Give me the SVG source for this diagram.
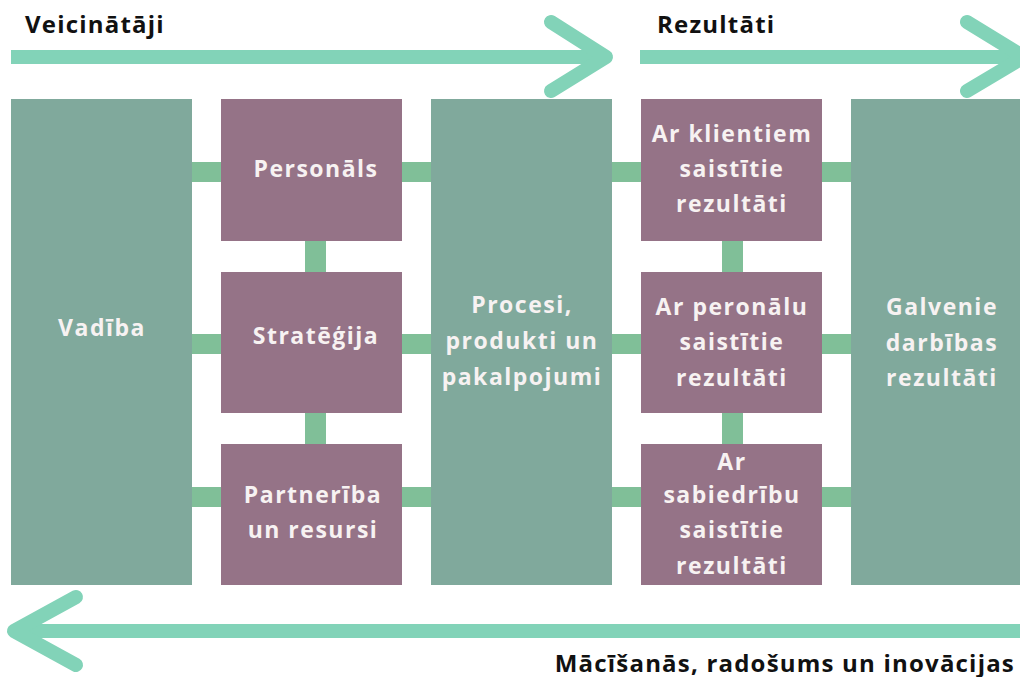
<svg xmlns="http://www.w3.org/2000/svg" width="1020" height="677" viewBox="0 0 1020 677">
<style>
.teal{fill:#80a99c}
.purple{fill:#957387}
.conn{fill:#80bf98}
.arrow{fill:none;stroke:#82d3b8;stroke-width:14;stroke-linecap:round;stroke-linejoin:round}
.shaft{fill:none;stroke:#82d3b8;stroke-width:14;stroke-linecap:butt}
.head{font-family:"Open Sans","Noto Sans","Liberation Sans",sans-serif;font-weight:bold;font-size:24px;fill:#111;letter-spacing:1.2px}
.lbl{font-family:"Open Sans","Noto Sans","Liberation Sans",sans-serif;font-weight:bold;font-size:23px;fill:#f7f2f2;text-anchor:middle;letter-spacing:1.5px}
</style>
<rect width="1020" height="677" fill="#ffffff"/>
<g id="arrows">
<path class="shaft" d="M11 57 H604"/>
<path class="arrow" d="M551 22 L606 57 L551 91"/>
<path class="shaft" d="M640 57 H1020"/>
<path class="arrow" d="M967 22 L1024 57 L967 91"/>
<path class="shaft" d="M1020 631 H16"/>
<path class="arrow" d="M76 597 L14 631 L76 665"/>
</g>
<g id="connectors">
<rect class="conn" x="190" y="162" width="32" height="20"/>
<rect class="conn" x="400" y="162" width="32" height="20"/>
<rect class="conn" x="610" y="162" width="32" height="20"/>
<rect class="conn" x="820" y="162" width="32" height="20"/>
<rect class="conn" x="190" y="334" width="32" height="20"/>
<rect class="conn" x="400" y="334" width="32" height="20"/>
<rect class="conn" x="610" y="334" width="32" height="20"/>
<rect class="conn" x="820" y="334" width="32" height="20"/>
<rect class="conn" x="190" y="487" width="32" height="20"/>
<rect class="conn" x="400" y="487" width="32" height="20"/>
<rect class="conn" x="610" y="487" width="32" height="20"/>
<rect class="conn" x="820" y="487" width="32" height="20"/>
<rect class="conn" x="305" y="239" width="21" height="35"/>
<rect class="conn" x="305" y="411" width="21" height="35"/>
<rect class="conn" x="722" y="239" width="21" height="35"/>
<rect class="conn" x="722" y="411" width="21" height="35"/>
</g>
<g id="vadiba"><rect class="teal" x="11" y="99" width="181" height="486"/><text class="lbl" x="102" y="336">Vadība</text></g>
<g id="personals"><rect class="purple" x="221" y="99" width="181" height="142"/><text class="lbl" x="316" y="177">Personāls</text></g>
<g id="strategija"><rect class="purple" x="221" y="272" width="181" height="141"/><text class="lbl" x="316" y="344">Stratēģija</text></g>
<g id="partneriba"><rect class="purple" x="221" y="444" width="181" height="141"/><text class="lbl" x="313" y="503">Partnerība</text><text class="lbl" x="313" y="538">un resursi</text></g>
<g id="procesi"><rect class="teal" x="431" y="99" width="181" height="486"/><text class="lbl" x="522" y="313">Procesi,</text><text class="lbl" x="522" y="349">produkti un</text><text class="lbl" x="522" y="385">pakalpojumi</text></g>
<g id="klienti"><rect class="purple" x="641" y="99" width="181" height="142"/><text class="lbl" x="732" y="142">Ar klientiem</text><text class="lbl" x="732" y="177">saistītie</text><text class="lbl" x="732" y="212">rezultāti</text></g>
<g id="personals-rez"><rect class="purple" x="641" y="272" width="181" height="141"/><text class="lbl" x="732" y="315">Ar peronālu</text><text class="lbl" x="732" y="350">saistītie</text><text class="lbl" x="732" y="386">rezultāti</text></g>
<g id="sabiedriba"><rect class="purple" x="641" y="444" width="181" height="141"/><text class="lbl" x="732" y="470">Ar</text><text class="lbl" x="732" y="503">sabiedrību</text><text class="lbl" x="732" y="538">saistītie</text><text class="lbl" x="732" y="574">rezultāti</text></g>
<g id="galvenie"><rect class="teal" x="851" y="99" width="180" height="486"/><text class="lbl" x="942" y="315">Galvenie</text><text class="lbl" x="942" y="351">darbības</text><text class="lbl" x="942" y="386">rezultāti</text></g>
<g id="titles">
<text class="head" x="25" y="33">Veicinātāji</text>
<text class="head" x="657" y="33">Rezultāti</text>
<text class="head" x="1015" y="672" text-anchor="end">Mācīšanās, radošums un inovācijas</text>
</g>
</svg>
